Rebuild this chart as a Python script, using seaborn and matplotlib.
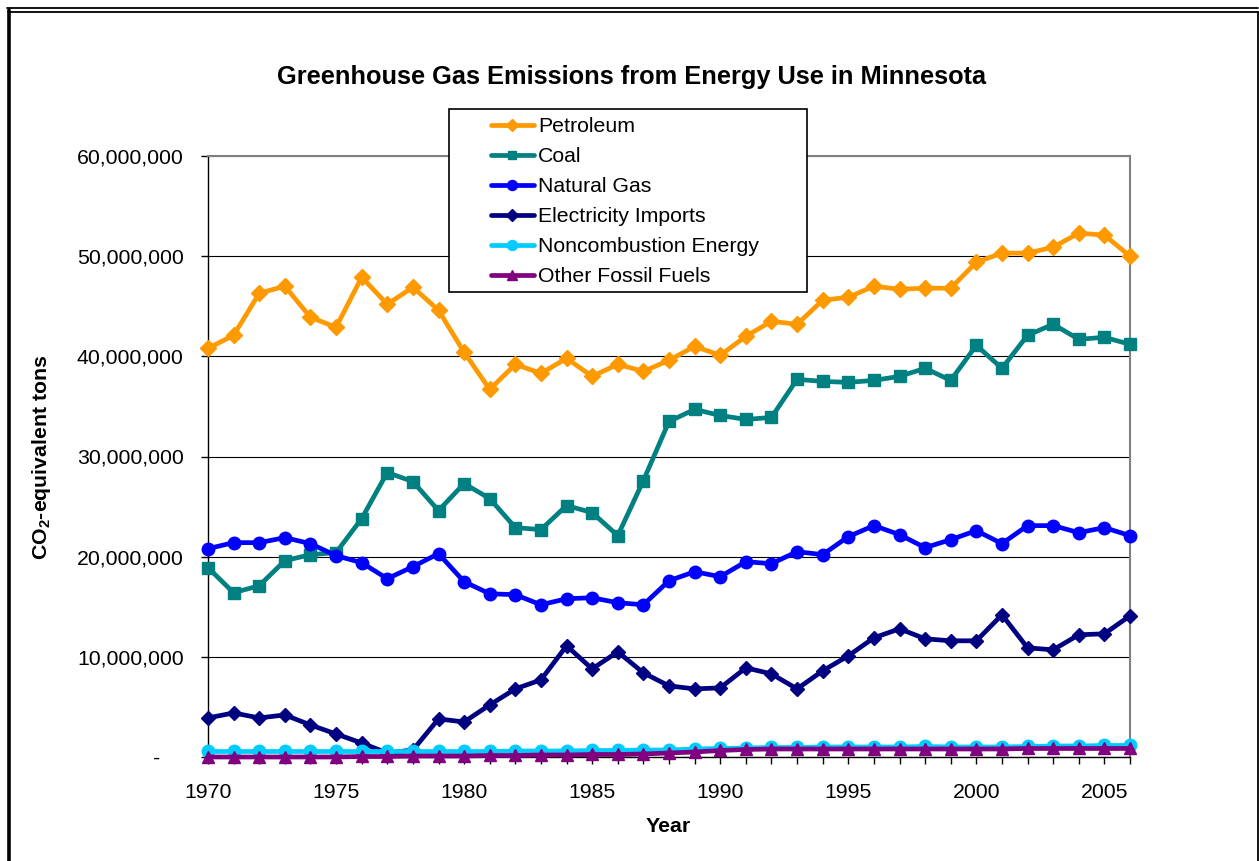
import matplotlib
matplotlib.use("Agg")
import matplotlib.pyplot as plt
import seaborn as sns
import pandas as pd
import numpy as np
from matplotlib.ticker import FuncFormatter, MultipleLocator
from matplotlib.lines import Line2D
from matplotlib.patches import Rectangle

years = list(range(1970, 2007))

petroleum = [40.8, 42.1, 46.3, 47.0, 43.9, 42.9, 47.9, 45.2, 46.9, 44.6,
             40.4, 36.7, 39.2, 38.3, 39.8, 38.0, 39.2, 38.5, 39.6, 41.0,
             40.1, 42.0, 43.5, 43.2, 45.6, 45.9, 47.0, 46.7, 46.8, 46.8,
             49.4, 50.3, 50.3, 50.9, 52.3, 52.1, 50.0]
coal = [18.9, 16.4, 17.1, 19.6, 20.2, 20.4, 23.8, 28.4, 27.5, 24.6,
        27.3, 25.8, 22.9, 22.7, 25.1, 24.4, 22.1, 27.6, 33.5, 34.7,
        34.1, 33.7, 33.9, 37.7, 37.5, 37.4, 37.6, 38.0, 38.8, 37.6,
        41.1, 38.8, 42.1, 43.2, 41.7, 41.9, 41.2]
natural_gas = [20.8, 21.4, 21.4, 21.9, 21.3, 20.1, 19.4, 17.8, 19.0, 20.3,
               17.5, 16.3, 16.2, 15.2, 15.8, 15.9, 15.4, 15.2, 17.6, 18.5,
               18.0, 19.5, 19.3, 20.5, 20.2, 22.0, 23.1, 22.2, 20.9, 21.7,
               22.6, 21.3, 23.1, 23.1, 22.4, 22.9, 22.1]
electricity = [3.9, 4.4, 3.9, 4.2, 3.2, 2.3, 1.4, 0.4, 0.7, 3.8,
               3.5, 5.2, 6.8, 7.7, 11.1, 8.8, 10.5, 8.4, 7.1, 6.8,
               6.9, 8.9, 8.3, 6.8, 8.6, 10.1, 11.9, 12.8, 11.8, 11.6,
               11.6, 14.2, 10.9, 10.7, 12.2, 12.3, 14.1]
noncombustion = [0.55, 0.55, 0.55, 0.55, 0.55, 0.55, 0.55, 0.55, 0.55, 0.55,
                 0.55, 0.55, 0.6, 0.6, 0.6, 0.65, 0.65, 0.7, 0.7, 0.8,
                 0.85, 0.9, 0.95, 0.95, 1.0, 1.0, 1.0, 1.0, 1.05, 1.0,
                 1.0, 1.0, 1.05, 1.1, 1.1, 1.15, 1.15]
other_fossil = [0.0, 0.0, 0.0, 0.0, 0.0, 0.0, 0.05, 0.05, 0.1, 0.1,
                0.1, 0.15, 0.15, 0.2, 0.2, 0.25, 0.25, 0.3, 0.4, 0.5,
                0.65, 0.75, 0.8, 0.8, 0.8, 0.8, 0.8, 0.8, 0.8, 0.8,
                0.8, 0.8, 0.85, 0.85, 0.85, 0.85, 0.85]

series_names = ["Petroleum", "Coal", "Natural Gas", "Electricity Imports",
                "Noncombustion Energy", "Other Fossil Fuels"]
series_values = [petroleum, coal, natural_gas, electricity, noncombustion, other_fossil]
colors = ["#FF9900", "#008080", "#0000FF", "#000080", "#00CCFF", "#800080"]
markers = ["D", "s", "o", "D", "o", "^"]
msizes = [8, 8, 9, 7.5, 9, 9]

title = "Greenhouse Gas Emissions from Energy Use in Minnesota"
xlabel = "Year"
ylabel = r"CO$_\mathbf{2}$-equivalent tons"

df = pd.DataFrame({"Year": years})
for n, v in zip(series_names, series_values):
    df[n] = np.array(v) * 1e6

sns.set_theme(style="white")
plt.rcParams["font.family"] = ["Liberation Sans", "DejaVu Sans"]
plt.rcParams["mathtext.fontset"] = "custom"
plt.rcParams["mathtext.rm"] = "Liberation Sans"
plt.rcParams["mathtext.bf"] = "Liberation Sans:bold"
plt.rcParams["text.color"] = "black"
plt.rcParams["axes.labelcolor"] = "black"
plt.rcParams["xtick.color"] = "black"
plt.rcParams["ytick.color"] = "black"

W, H = 1259, 861
fig = plt.figure(figsize=(W / 100, H / 100), dpi=100)
fig.patch.set_facecolor("white")
ax = fig.add_axes([208 / W, 1 - 757 / H, (1130 - 208) / W, (757 - 156) / H])
ax.set_facecolor("white")

for i, (n, c, m, ms) in enumerate(zip(series_names, colors, markers, msizes)):
    sns.lineplot(data=df, x="Year", y=n, ax=ax, color=c, marker=m,
                 markersize=ms, markeredgecolor=c, markeredgewidth=1,
                 linewidth=3.4, label=n, legend=False, zorder=3 + i)
for ln in ax.get_lines():
    ln.set_clip_on(False)

ax.set_xlim(1970, 2006)
ax.set_ylim(0, 60e6)

ax.yaxis.set_major_locator(MultipleLocator(10e6))
def yfmt(v, pos):
    if abs(v) < 1:
        return "-    "
    return f"{v:,.0f}"
ax.yaxis.set_major_formatter(FuncFormatter(yfmt))

ax.set_xticks(years)
ax.set_xticklabels([str(y) if y % 5 == 0 else "" for y in years])

ax.grid(axis="y", color="black", linewidth=0.8, zorder=1)
ax.grid(axis="x", visible=False)
ax.set_axisbelow(True)

for s in ["top", "right"]:
    ax.spines[s].set_color("#808080")
    ax.spines[s].set_linewidth(1.5)
for s in ["left", "bottom"]:
    ax.spines[s].set_color("black")
    ax.spines[s].set_linewidth(1.0)

ax.tick_params(axis="both", which="major", labelsize=15.3, colors="black",
               labelcolor="black", length=5, width=1, direction="out")
ax.tick_params(axis="y", pad=12.5)
ax.tick_params(axis="x", pad=14)
ax.tick_params(left=True, bottom=True)

ax.set_xlabel("")
ax.set_ylabel("")
fig.text(668 / W, 1 - 826 / H, xlabel, ha="center", va="center",
         fontsize=15.3, fontweight="bold", color="black")
fig.text(42 / W, 1 - 457 / H, ylabel, ha="center", va="center",
         rotation=90, fontsize=15.3, fontweight="bold", color="black")
fig.text(632 / W, 1 - 77 / H, title, ha="center", va="center",
         fontsize=18.3, fontweight="bold", color="black")

# legend box
rect = Rectangle((449 / W, 1 - 292 / H), (807 - 449) / W, (292 - 109) / H,
                 transform=fig.transFigure, facecolor="white",
                 edgecolor="black", linewidth=1.2, zorder=4)
fig.patches.append(rect)
handles = [Line2D([], [], color=c, marker=m, markersize=ms * 0.8,
                  markeredgecolor=c, linewidth=3.4)
           for c, m, ms in zip(colors, markers, msizes)]
leg = fig.legend(handles, series_names, loc="upper left",
                 bbox_to_anchor=(491 / W, 1 - 117 / H),
                 bbox_transform=fig.transFigure, frameon=False,
                 fontsize=15.3, handlelength=2.0, handletextpad=0.2,
                 labelspacing=0.52, borderpad=0, borderaxespad=0,
                 labelcolor="black")
leg.set_zorder(5)

# outer chart frame
fig.lines.append(Line2D([8.5 / W, 8.5 / W], [0, 1 - 10 / H], transform=fig.transFigure,
                        color="black", linewidth=2.6))
fig.lines.append(Line2D([7 / W, 1258 / W], [1 - 8 / H, 1 - 8 / H], transform=fig.transFigure,
                        color="black", linewidth=1.3))
fig.lines.append(Line2D([8 / W, 1258 / W], [1 - 11.5 / H, 1 - 11.5 / H], transform=fig.transFigure,
                        color="black", linewidth=1.3))
fig.lines.append(Line2D([1258 / W, 1258 / W], [0, 1 - 11.5 / H], transform=fig.transFigure,
                        color="black", linewidth=1.3))

fig.savefig("out.png", dpi=100, facecolor="white")
